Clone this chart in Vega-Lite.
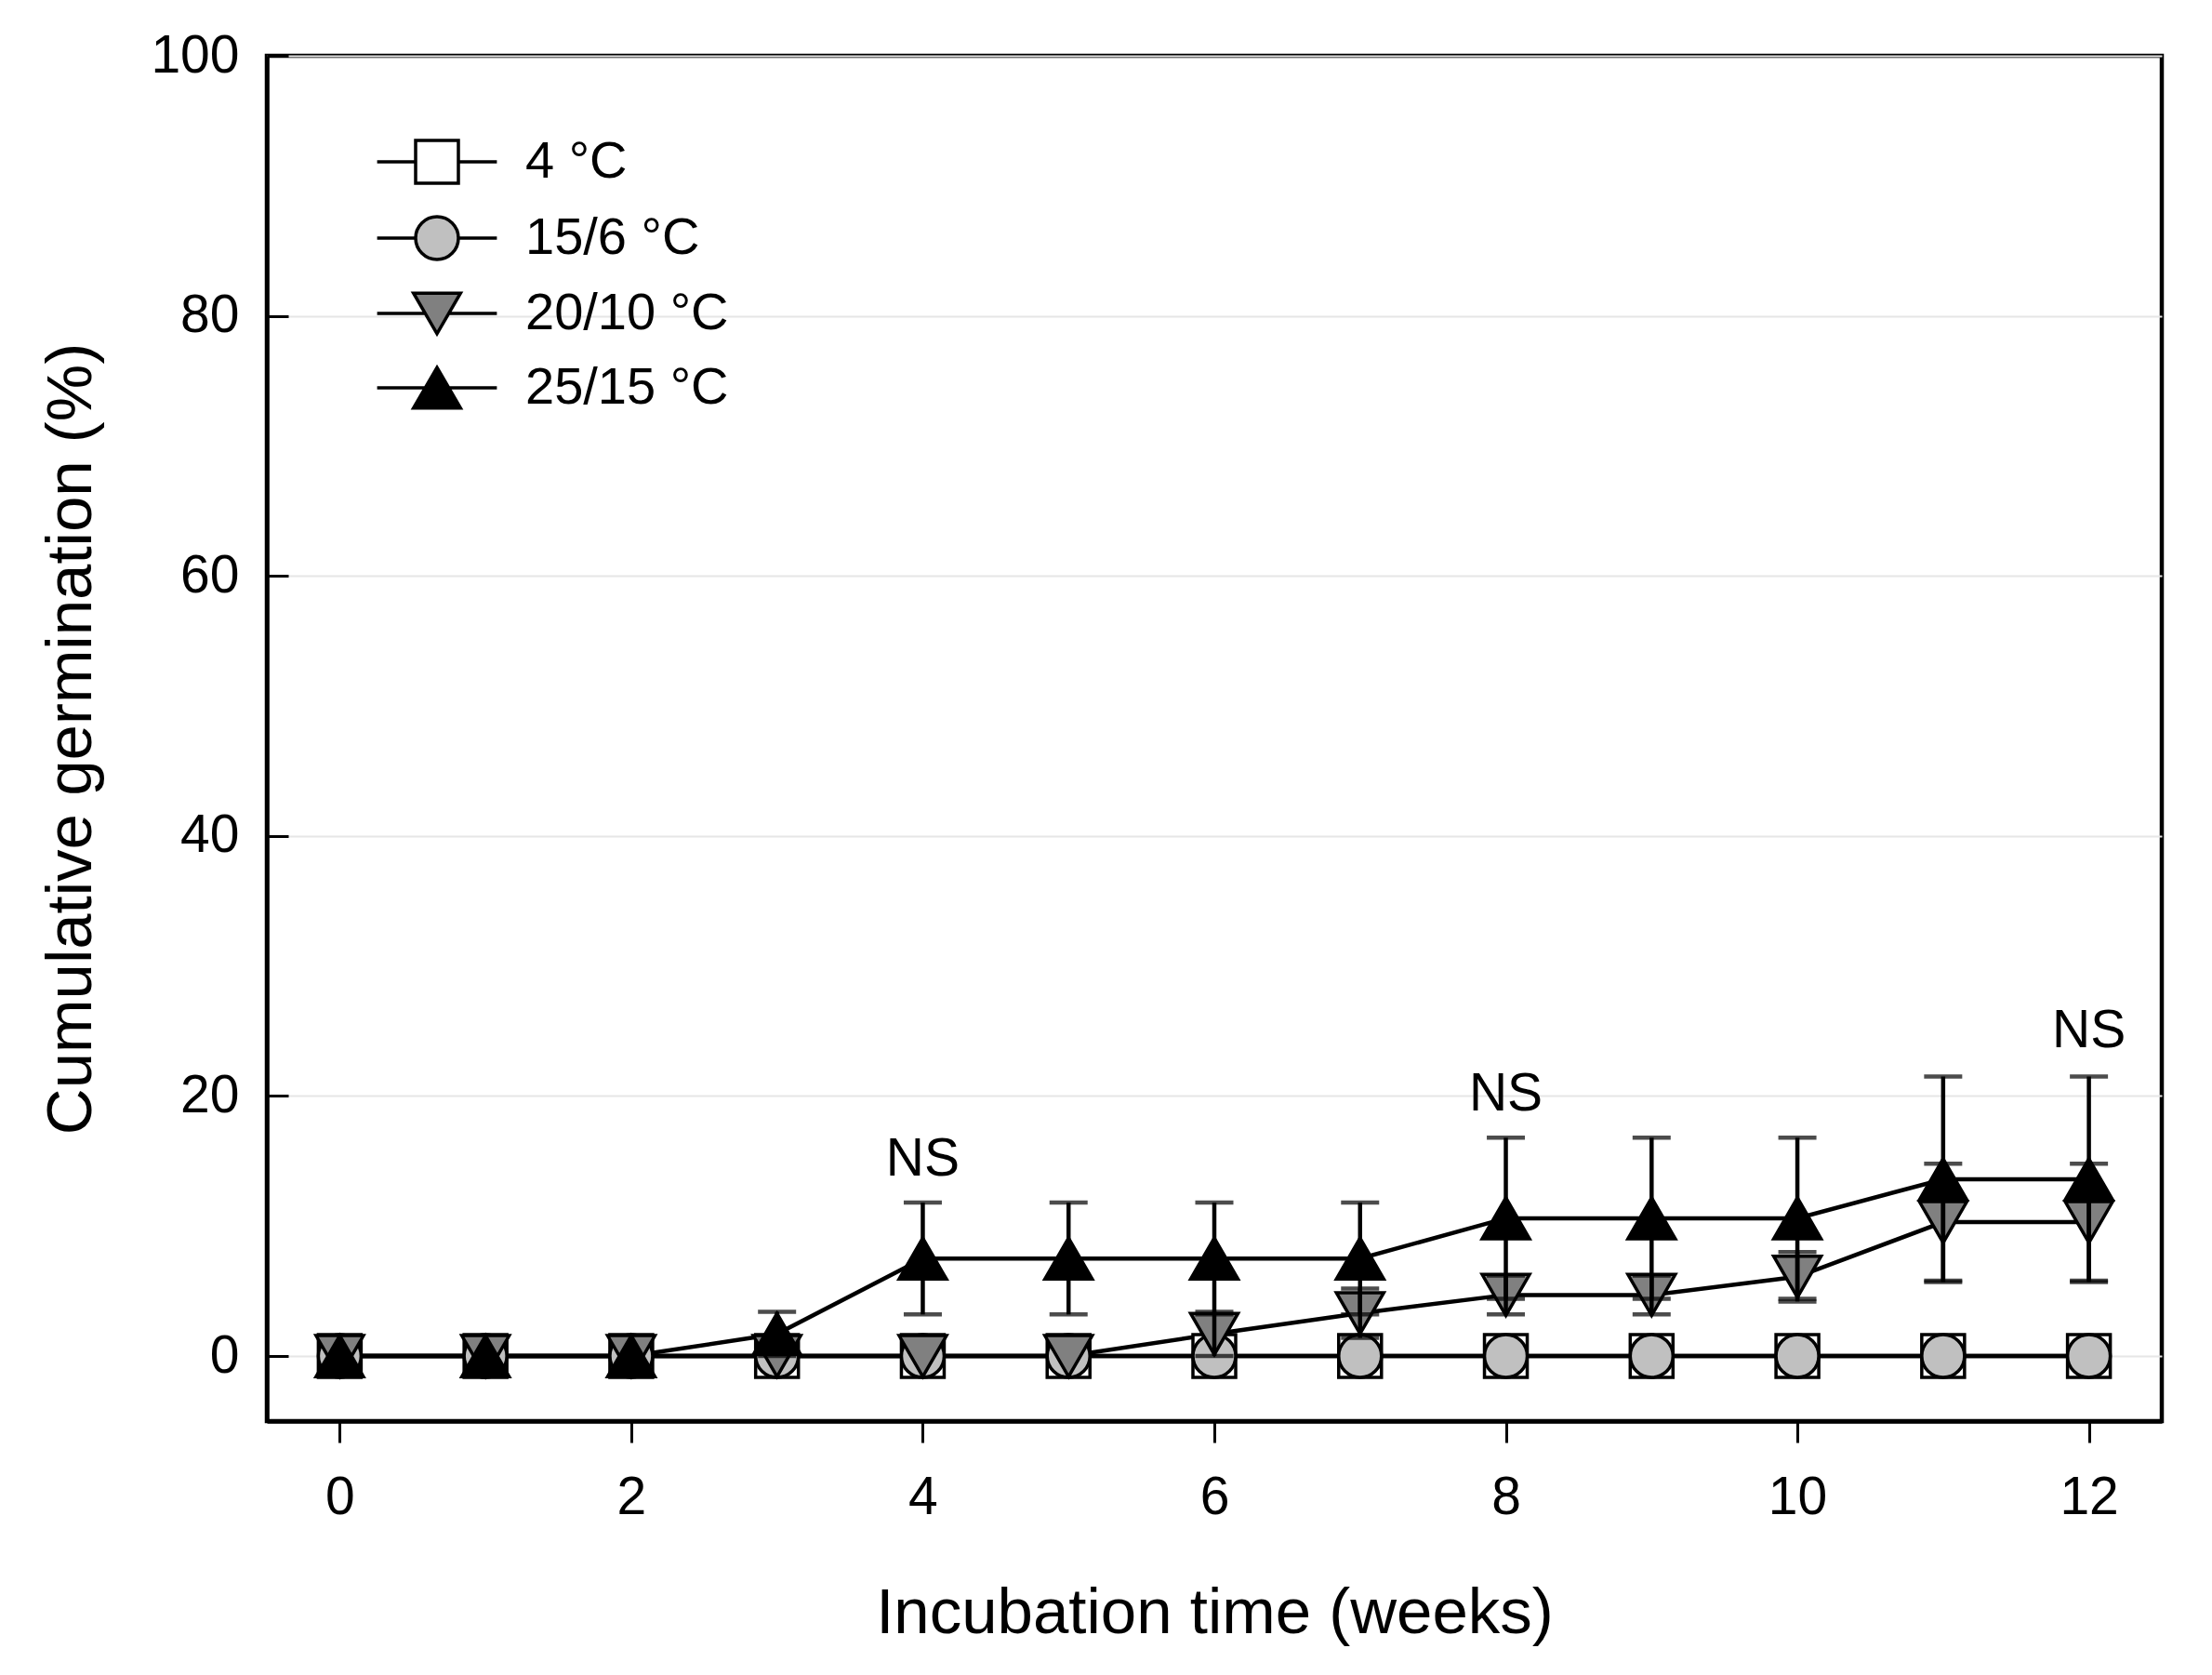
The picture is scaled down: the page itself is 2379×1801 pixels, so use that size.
{
  "$schema": "https://vega.github.io/schema/vega-lite/v6.json",
  "description": "Cumulative germination over 12 weeks of incubation at four temperatures.",
  "width": 2038,
  "height": 1468,
  "autosize": {"type": "none"},
  "padding": {"left": 287, "top": 60, "right": 54, "bottom": 273},
  "background": "white",
  "config": {
    "font": "Liberation Sans",
    "view": {"stroke": "black", "strokeWidth": 4.5},
    "axis": {
      "labelFont": "Liberation Sans",
      "titleFont": "Liberation Sans",
      "labelColor": "black",
      "titleColor": "black",
      "titleFontWeight": "normal",
      "domainColor": "black",
      "domainWidth": 4.5,
      "tickColor": "black",
      "tickWidth": 3,
      "labelFontSize": 57,
      "titleFontSize": 69
    },
    "legend": {
      "title": null,
      "orient": "none",
      "legendX": 155,
      "legendY": 86,
      "padding": 0,
      "symbolSize": 2116,
      "symbolOpacity": 1,
      "symbolStrokeWidth": 3.5,
      "labelFont": "Liberation Sans",
      "labelFontSize": 56,
      "labelColor": "black",
      "labelLimit": 0,
      "labelOffset": 67,
      "rowPadding": 22
    }
  },
  "datasets": {
    "germ": [
      {"week": 0, "series": "4 °C", "mean": 0, "err": 0},
      {"week": 1, "series": "4 °C", "mean": 0, "err": 0},
      {"week": 2, "series": "4 °C", "mean": 0, "err": 0},
      {"week": 3, "series": "4 °C", "mean": 0, "err": 0},
      {"week": 4, "series": "4 °C", "mean": 0, "err": 0},
      {"week": 5, "series": "4 °C", "mean": 0, "err": 0},
      {"week": 6, "series": "4 °C", "mean": 0, "err": 0},
      {"week": 7, "series": "4 °C", "mean": 0, "err": 0},
      {"week": 8, "series": "4 °C", "mean": 0, "err": 0},
      {"week": 9, "series": "4 °C", "mean": 0, "err": 0},
      {"week": 10, "series": "4 °C", "mean": 0, "err": 0},
      {"week": 11, "series": "4 °C", "mean": 0, "err": 0},
      {"week": 12, "series": "4 °C", "mean": 0, "err": 0},
      {"week": 0, "series": "15/6 °C", "mean": 0, "err": 0},
      {"week": 1, "series": "15/6 °C", "mean": 0, "err": 0},
      {"week": 2, "series": "15/6 °C", "mean": 0, "err": 0},
      {"week": 3, "series": "15/6 °C", "mean": 0, "err": 0},
      {"week": 4, "series": "15/6 °C", "mean": 0, "err": 0},
      {"week": 5, "series": "15/6 °C", "mean": 0, "err": 0},
      {"week": 6, "series": "15/6 °C", "mean": 0, "err": 0},
      {"week": 7, "series": "15/6 °C", "mean": 0, "err": 0},
      {"week": 8, "series": "15/6 °C", "mean": 0, "err": 0},
      {"week": 9, "series": "15/6 °C", "mean": 0, "err": 0},
      {"week": 10, "series": "15/6 °C", "mean": 0, "err": 0},
      {"week": 11, "series": "15/6 °C", "mean": 0, "err": 0},
      {"week": 12, "series": "15/6 °C", "mean": 0, "err": 0},
      {"week": 0, "series": "20/10 °C", "mean": 0, "err": 0},
      {"week": 1, "series": "20/10 °C", "mean": 0, "err": 0},
      {"week": 2, "series": "20/10 °C", "mean": 0, "err": 0},
      {"week": 3, "series": "20/10 °C", "mean": 0, "err": 0},
      {"week": 4, "series": "20/10 °C", "mean": 0, "err": 0},
      {"week": 5, "series": "20/10 °C", "mean": 0, "err": 0},
      {"week": 6, "series": "20/10 °C", "mean": 1.7, "err": 1.7},
      {"week": 7, "series": "20/10 °C", "mean": 3.3, "err": 1.9},
      {"week": 8, "series": "20/10 °C", "mean": 4.7, "err": 1.5},
      {"week": 9, "series": "20/10 °C", "mean": 4.7, "err": 1.5},
      {"week": 10, "series": "20/10 °C", "mean": 6.1, "err": 1.9},
      {"week": 11, "series": "20/10 °C", "mean": 10.3, "err": 4.5},
      {"week": 12, "series": "20/10 °C", "mean": 10.3, "err": 4.5},
      {"week": 0, "series": "25/15 °C", "mean": 0, "err": 0},
      {"week": 1, "series": "25/15 °C", "mean": 0, "err": 0},
      {"week": 2, "series": "25/15 °C", "mean": 0, "err": 0},
      {"week": 3, "series": "25/15 °C", "mean": 1.7, "err": 1.7},
      {"week": 4, "series": "25/15 °C", "mean": 7.5, "err": 4.3},
      {"week": 5, "series": "25/15 °C", "mean": 7.5, "err": 4.3},
      {"week": 6, "series": "25/15 °C", "mean": 7.5, "err": 4.3},
      {"week": 7, "series": "25/15 °C", "mean": 7.5, "err": 4.3},
      {"week": 8, "series": "25/15 °C", "mean": 10.6, "err": 6.2},
      {"week": 9, "series": "25/15 °C", "mean": 10.6, "err": 6.2},
      {"week": 10, "series": "25/15 °C", "mean": 10.6, "err": 6.2},
      {"week": 11, "series": "25/15 °C", "mean": 13.6, "err": 7.9},
      {"week": 12, "series": "25/15 °C", "mean": 13.6, "err": 7.9}
    ],
    "notes": [
      {"week": 4, "pos": 15.1, "label": "NS"},
      {"week": 8, "pos": 20.1, "label": "NS"},
      {"week": 12, "pos": 25.0, "label": "NS"}
    ]
  },
  "encoding": {
    "x": {
      "field": "week",
      "type": "quantitative",
      "scale": {"domain": [-0.5, 12.5], "nice": false, "zero": false},
      "axis": {
        "title": "Incubation time (weeks)",
        "values": [0, 2, 4, 6, 8, 10, 12],
        "grid": false,
        "tickSize": 23,
        "labelPadding": 31,
        "titleY": 227,
        "titleBaseline": "alphabetic"
      }
    }
  },
  "layer": [
    {
      "data": {"name": "germ"},
      "mark": {"type": "line", "color": "black", "strokeWidth": 4.5},
      "encoding": {
        "y": {"field": "mean", "type": "quantitative", "scale": {"domain": [-5, 100], "nice": false, "zero": false}, "axis": null},
        "detail": {"field": "series", "type": "nominal"}
      }
    },
    {
      "data": {"name": "germ"},
      "transform": [{"filter": "datum.series === '4 °C'"}],
      "mark": {"type": "point", "shape": "square", "size": 2116, "filled": true, "stroke": "black", "strokeWidth": 3.5, "opacity": 1},
      "encoding": {
        "y": {
          "field": "mean",
          "type": "quantitative",
          "scale": {"domain": [-5, 100], "nice": false, "zero": false},
          "axis": {
            "orient": "left",
            "title": "Cumulative germination (%)",
            "values": [0, 20, 40, 60, 80, 100],
            "grid": true,
            "gridColor": "#e6e6e6",
            "gridWidth": 2,
            "ticks": false,
            "tickSize": 0,
            "labelPadding": 30,
            "titleX": -211,
            "titleY": 734,
            "titleBaseline": "middle"
          }
        },
        "fill": {
          "field": "series",
          "type": "nominal",
          "sort": null,
          "scale": {"domain": ["4 °C", "15/6 °C", "20/10 °C", "25/15 °C"], "range": ["white", "#c0c0c0", "#808080", "black"]}
        }
      }
    },
    {
      "data": {"name": "germ"},
      "transform": [{"filter": "datum.series === '15/6 °C'"}],
      "mark": {"type": "point", "shape": "circle", "size": 2116, "filled": true, "stroke": "black", "strokeWidth": 3.5, "opacity": 1},
      "encoding": {
        "y": {"field": "mean", "type": "quantitative", "scale": {"domain": [-5, 100], "nice": false, "zero": false}, "axis": null},
        "fill": {
          "field": "series",
          "type": "nominal",
          "sort": null,
          "scale": {"domain": ["4 °C", "15/6 °C", "20/10 °C", "25/15 °C"], "range": ["white", "#c0c0c0", "#808080", "black"]}
        }
      }
    },
    {
      "data": {"name": "germ"},
      "transform": [{"filter": "datum.series === '20/10 °C'"}],
      "mark": {"type": "point", "shape": "triangle-down", "size": 2600, "filled": true, "stroke": "black", "strokeWidth": 3.5, "opacity": 1},
      "encoding": {
        "y": {"field": "mean", "type": "quantitative", "scale": {"domain": [-5, 100], "nice": false, "zero": false}, "axis": null},
        "fill": {
          "field": "series",
          "type": "nominal",
          "sort": null,
          "scale": {"domain": ["4 °C", "15/6 °C", "20/10 °C", "25/15 °C"], "range": ["white", "#c0c0c0", "#808080", "black"]}
        }
      }
    },
    {
      "data": {"name": "germ"},
      "transform": [{"filter": "datum.series === '25/15 °C'"}],
      "mark": {"type": "point", "shape": "triangle-up", "size": 2600, "filled": true, "stroke": "black", "strokeWidth": 3.5, "opacity": 1},
      "encoding": {
        "y": {"field": "mean", "type": "quantitative", "scale": {"domain": [-5, 100], "nice": false, "zero": false}, "axis": null},
        "fill": {
          "field": "series",
          "type": "nominal",
          "sort": null,
          "scale": {"domain": ["4 °C", "15/6 °C", "20/10 °C", "25/15 °C"], "range": ["white", "#c0c0c0", "#808080", "black"]}
        }
      }
    },
    {
      "data": {"name": "germ"},
      "transform": [{"filter": "datum.err > 0"}],
      "mark": {
        "type": "errorbar",
        "ticks": {"size": 41, "thickness": 4.5, "color": "black"},
        "rule": {"strokeWidth": 4.5, "color": "black"}
      },
      "encoding": {
        "y": {"field": "mean", "type": "quantitative", "scale": {"domain": [-5, 100], "nice": false, "zero": false}, "axis": null},
        "yError": {"field": "err"},
        "detail": {"field": "series", "type": "nominal"}
      }
    },
    {
      "data": {"name": "germ"},
      "transform": [{"filter": "datum.week === 0"}],
      "mark": {"type": "point", "filled": true, "size": 2116, "stroke": "black", "strokeWidth": 3.5, "opacity": 0},
      "encoding": {
        "y": {"field": "mean", "type": "quantitative", "scale": {"domain": [-5, 100], "nice": false, "zero": false}, "axis": null},
        "fill": {
          "field": "series",
          "type": "nominal",
          "sort": null,
          "scale": {"domain": ["4 °C", "15/6 °C", "20/10 °C", "25/15 °C"], "range": ["white", "#c0c0c0", "#808080", "black"]}
        },
        "shape": {
          "field": "series",
          "type": "nominal",
          "sort": null,
          "scale": {
            "domain": ["4 °C", "15/6 °C", "20/10 °C", "25/15 °C"],
            "range": [
              "M-2.8,0H-1M1,0H2.8M-1,-1H1V1H-1Z",
              "M-2.8,0H-1M1,0H2.8M-1,0A1,1,0,1,1,1,0A1,1,0,1,1,-1,0Z",
              "M-2.8,0H-0.55M0.55,0H2.8M-1.1,-0.95H1.1L0,0.95Z",
              "M-2.8,0H-0.55M0.55,0H2.8M0,-0.95L1.1,0.95H-1.1Z"
            ]
          }
        }
      }
    },
    {
      "data": {"name": "notes"},
      "mark": {"type": "text", "fontSize": 57, "font": "Liberation Sans", "color": "black", "align": "center", "baseline": "middle"},
      "encoding": {
        "y": {
          "field": "pos",
          "type": "quantitative",
          "scale": {"domain": [-5, 100], "nice": false, "zero": false},
          "axis": {
            "orient": "left",
            "offset": -23,
            "values": [0, 20, 40, 60, 80, 100],
            "tickSize": 23,
            "tickWidth": 3,
            "labels": false,
            "domain": false,
            "grid": false,
            "title": null
          }
        },
        "text": {"field": "label", "type": "nominal"}
      }
    }
  ],
  "resolve": {"axis": {"y": "independent"}}
}
